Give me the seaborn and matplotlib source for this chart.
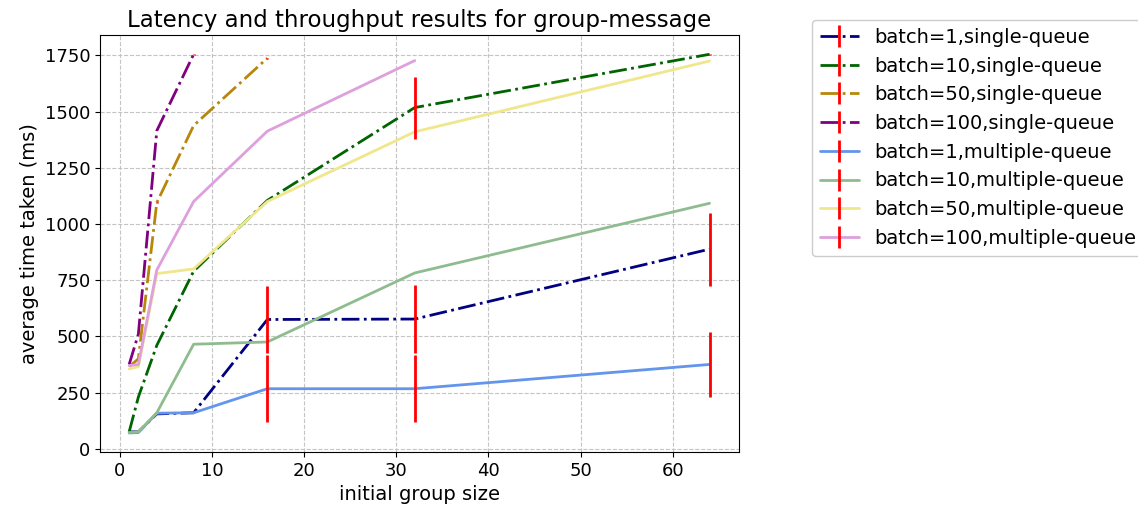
import seaborn as sns
from matplotlib import pyplot as plt
from matplotlib.lines import Line2D
from matplotlib.legend_handler import HandlerTuple
import pandas as pd

# group sizes on the x axis
group_sizes = [1, 2, 4, 8, 16, 32, 64]

# average time taken (ms), single-queue runs
single_b1 = [75, 75, 155, 160, 575, 577, 888]
single_b10 = [75, 230, 460, 790, 1105, 1518, 1755]
single_b50 = [365, 400, 1095, 1438, 1738]
single_b100 = [375, 510, 1415, 1755]

# average time taken (ms), multiple-queue runs
multi_b1 = [70, 72, 158, 160, 267, 267, 375]
multi_b10 = [72, 75, 160, 465, 475, 782, 1092]
multi_b50 = [355, 365, 779, 800, 1100, 1410, 1725]
multi_b100 = [370, 375, 795, 1100, 1413, 1727]

# error (ms)
single_b1_err = [0, 0, 0, 0, 150, 150, 162]
single_b10_err = [0, 0, 0, 0, 0, 138, 2]
single_b50_err = [0, 0, 2, 0, 2]
single_b100_err = [0, 0, 0, 2]
multi_b1_err = [0, 0, 0, 0, 150, 150, 145]
multi_b10_err = [0, 0, 0, 0, 0, 0, 0]
multi_b50_err = [0, 0, 0, 0, 0, 0, 0]
multi_b100_err = [0, 0, 0, 0, 0, 0]

labels = [
    "batch=1,single-queue", "batch=10,single-queue",
    "batch=50,single-queue", "batch=100,single-queue",
    "batch=1,multiple-queue", "batch=10,multiple-queue",
    "batch=50,multiple-queue", "batch=100,multiple-queue",
]
series = [single_b1, single_b10, single_b50, single_b100,
          multi_b1, multi_b10, multi_b50, multi_b100]
errors = [single_b1_err, single_b10_err, single_b50_err, single_b100_err,
          multi_b1_err, multi_b10_err, multi_b50_err, multi_b100_err]
colors = ["navy", "darkgreen", "darkgoldenrod", "purple",
          "cornflowerblue", "darkseagreen", "khaki", "plum"]
styles = ["-."] * 4 + ["-"] * 4

rows = []
for lab, vals, errs in zip(labels, series, errors):
    for x, y, e in zip(group_sizes, vals, errs):
        rows.append({"size": x, "time": y, "err": e, "run": lab})
df = pd.DataFrame(rows)

sns.set_style("ticks", {"axes.grid": True, "grid.linestyle": "--",
                        "grid.color": "#c4c4c4", "axes.edgecolor": "black",
                        "xtick.color": "black", "ytick.color": "black",
                        "text.color": "black", "axes.labelcolor": "black"})
plt.rcParams["font.family"] = ["DejaVu Sans"]
plt.rcParams["xtick.labelsize"] = 13
plt.rcParams["ytick.labelsize"] = 13

fig, ax = plt.subplots(figsize=(11.38, 5.13), dpi=100)
fig.subplots_adjust(left=0.088, right=0.649, top=0.932, bottom=0.119)

handles = []
for lab, col, ls in zip(labels, colors, styles):
    sub = df[df["run"] == lab]
    sns.lineplot(data=sub, x="size", y="time", color=col, linestyle=ls,
                 linewidth=2, ax=ax, legend=False, errorbar=None)
    handles.append((Line2D([], [], color=col, linestyle=ls, linewidth=2),
                    Line2D([], [], color="red", marker="|", markersize=16,
                           markeredgewidth=2, linestyle="none")))

for lab in labels:
    sub = df[(df["run"] == lab) & (df["err"] > 0)]
    ax.errorbar(sub["size"], sub["time"], yerr=sub["err"], fmt="none",
                ecolor="red", elinewidth=2, zorder=3)

ax.set_xticks(range(0, 70, 10))
ax.set_yticks(range(0, 2000, 250))
ax.set_xlabel("initial group size", fontsize=14)
ax.set_ylabel("average time taken (ms)", fontsize=14)
ax.set_title("Latency and throughput results for group-message", fontsize=16.5)

fig.legend(handles, labels, handler_map={tuple: HandlerTuple(ndivide=1)},
           loc="upper left", bbox_to_anchor=(0.7135, 0.961), borderaxespad=0,
           fontsize=14, frameon=True, framealpha=1, edgecolor="0.8",
           fancybox=True)

fig.savefig("out.png", dpi=100)
